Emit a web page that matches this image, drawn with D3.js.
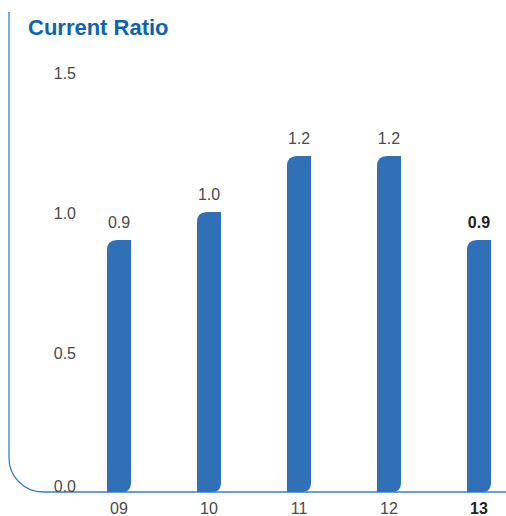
<!DOCTYPE html>
<html><head><meta charset="utf-8">
<script src="https://cdn.jsdelivr.net/npm/d3@7"></script>
<style>body{margin:0;background:#fff}svg{display:block}</style>
</head><body>
<script>
const categories = ["09","10","11","12","13"];
const values = [0.9, 1.0, 1.2, 1.2, 0.9];
const yTicks = [0.0, 0.5, 1.0, 1.5];
const highlight = "13";

const W = 506, H = 516;
const svg = d3.select("body").append("svg").attr("width", W).attr("height", H);
const font = "'Liberation Sans', Arial, Helvetica, sans-serif";
const fs = 16;

const x = d3.scaleBand().domain(categories).range([74, 524]).paddingInner(0.7333).paddingOuter(0.3667);
const y = d3.scaleLinear().domain([0, 1.5]).range([492, 72]);

// title
svg.append("text").attr("x", 28).attr("y", 35).attr("font-family", font)
  .attr("font-weight", "bold").attr("font-size", 22).attr("fill", "#0b63b1").text("Current Ratio");

// axis frame
const r = 34;
svg.append("path")
  .attr("d", `M9,12 L9,${y(0) - r} A${r},${r} 0 0 0 ${9 + r},${y(0)} L${W},${y(0)}`)
  .attr("fill", "none").attr("stroke", "#3b7fc6").attr("stroke-width", 1.3);

// y tick labels
svg.append("g").selectAll("text").data(yTicks).join("text")
  .attr("x", 76).attr("y", d => d === 0 ? y(d) - 0 : y(d) + 7)
  .attr("text-anchor", "end").attr("font-family", font).attr("font-size", fs)
  .attr("fill", "#4a4a4a").text(d => d.toFixed(1));

// bars
const rt = 10, rb = 9;
function barPath(x0, y0, w, h) {
  const x1 = x0 + w, y1 = y0 + h;
  return `M${x0},${y1} L${x0},${y0 + rt} Q${x0},${y0} ${x0 + rt},${y0} L${x1},${y0} L${x1},${y1 - rb} Q${x1},${y1} ${x1 - rb},${y1} Z`;
}
const data = categories.map((c, i) => ({c, v: values[i]}));
svg.append("g").selectAll("path").data(data).join("path")
  .attr("d", d => barPath(x(d.c), y(d.v), x.bandwidth(), y(0) - y(d.v)))
  .attr("fill", "#2f70b7");

// value labels
svg.append("g").selectAll("text").data(data).join("text")
  .attr("x", d => x(d.c) + x.bandwidth() / 2).attr("y", d => y(d.v) - 12)
  .attr("text-anchor", "middle").attr("font-family", font).attr("font-size", fs)
  .attr("font-weight", d => d.c === highlight ? "bold" : "normal")
  .attr("fill", d => d.c === highlight ? "#222" : "#4a4a4a").text(d => d.v.toFixed(1));

// x labels
svg.append("g").selectAll("text").data(categories).join("text")
  .attr("x", d => x(d) + x.bandwidth() / 2).attr("y", 514)
  .attr("text-anchor", "middle").attr("font-family", font).attr("font-size", fs)
  .attr("font-weight", d => d === highlight ? "bold" : "normal")
  .attr("fill", d => d === highlight ? "#222" : "#4a4a4a").text(d => d);
</script>
</body></html>
